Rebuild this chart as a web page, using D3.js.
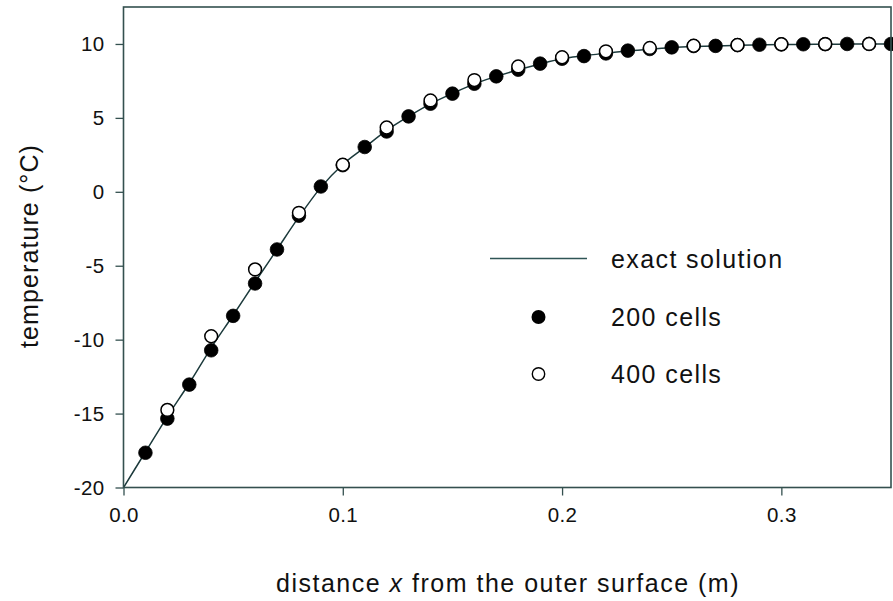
<!DOCTYPE html>
<html>
<head>
<meta charset="utf-8">
<script src="https://cdn.jsdelivr.net/npm/d3@7"></script>
<style>
  html, body { margin: 0; padding: 0; background: #fff; }
  svg { display: block; }
  text { font-family: "Liberation Sans", Arial, sans-serif; fill: #111; }
</style>
</head>
<body>
<svg id="chart" width="893" height="601"></svg>
<script>
// ---- data ----
const exactX = [0, 0.01, 0.02, 0.03, 0.04, 0.05, 0.06, 0.07, 0.08, 0.09, 0.10, 0.11, 0.12, 0.13, 0.14, 0.15, 0.16, 0.17, 0.18, 0.19, 0.20, 0.21, 0.22, 0.23, 0.24, 0.25, 0.26, 0.27, 0.28, 0.29, 0.30, 0.31, 0.32, 0.33, 0.34, 0.35];
const exactT = [-20, -17.6, -15.2, -12.95, -10.55, -8.35, -6.1, -3.9, -1.7, 0.3, 1.85, 3.0, 4.15, 5.1, 5.95, 6.65, 7.3, 7.8, 8.25, 8.65, 9.0, 9.2, 9.38, 9.53, 9.65, 9.75, 9.82, 9.87, 9.91, 9.94, 9.96, 9.97, 9.98, 9.99, 9.99, 10.0];

const cells200X = [0.01, 0.02, 0.03, 0.04, 0.05, 0.06, 0.07, 0.08, 0.09, 0.10, 0.11, 0.12, 0.13, 0.14, 0.15, 0.16, 0.17, 0.18, 0.19, 0.20, 0.21, 0.22, 0.23, 0.24, 0.25, 0.26, 0.27, 0.28, 0.29, 0.30, 0.31, 0.32, 0.33, 0.34, 0.35];
const cells200T = [-17.65, -15.34, -13.04, -10.72, -8.39, -6.2, -3.9, -1.62, 0.36, 1.8, 3.03, 4.08, 5.1, 5.96, 6.64, 7.31, 7.81, 8.26, 8.67, 9.0, 9.18, 9.36, 9.55, 9.66, 9.77, 9.86, 9.87, 9.92, 9.95, 9.97, 9.98, 9.99, 10.0, 10.0, 10.0];

const cells400X = [0.02, 0.04, 0.06, 0.08, 0.10, 0.12, 0.14, 0.16, 0.18, 0.20, 0.22, 0.24, 0.26, 0.28, 0.30, 0.32, 0.34];
const cells400T = [-14.75, -9.77, -5.25, -1.42, 1.83, 4.35, 6.18, 7.56, 8.48, 9.1, 9.5, 9.73, 9.88, 9.93, 9.98, 9.99, 10.0];

const xTicks = [0.0, 0.1, 0.2, 0.3];
const yTicks = [-20, -15, -10, -5, 0, 5, 10];
const legendLabels = ["exact solution", "200 cells", "400 cells"];
const yTitle = "temperature (°C)";

// ---- layout ----
const svg = d3.select("#chart");
const L = 123.5, R = 891, T = 7, B = 487.5;
const x = d3.scaleLinear().domain([0, 0.35]).range([L, R]);
const y = d3.scaleLinear().domain([-20, 12.5]).range([B, T]);
const frameColor = "#34504f";

svg.append("defs").append("clipPath").attr("id", "clip")
  .append("rect").attr("x", L).attr("y", T).attr("width", R - L + 4).attr("height", B - T);

// axes
const xAxis = d3.axisBottom(x).tickValues(xTicks).tickFormat(d3.format(".1f")).tickSize(8).tickPadding(12);
const yAxis = d3.axisLeft(y).tickValues(yTicks).tickFormat(d => d).tickSize(8).tickPadding(11);

const gx = svg.append("g").attr("transform", `translate(0,${B})`).call(xAxis);
const gy = svg.append("g").attr("transform", `translate(${L},0)`).call(yAxis);
[gx, gy].forEach(g => {
  g.select(".domain").remove();
  g.selectAll(".tick line").attr("stroke", frameColor).attr("stroke-width", 1.3);
  g.selectAll(".tick text").style("font-family", "'Liberation Sans', Arial, sans-serif")
    .style("font-size", "20.5px").style("letter-spacing", "0.4px").attr("fill", "#111");
});

// data
const lineData = exactX.map((d, i) => [d, exactT[i]]);
const d200 = cells200X.map((d, i) => [d, cells200T[i]]);
const d400 = cells400X.map((d, i) => [d, cells400T[i]]);

const plot = svg.append("g").attr("clip-path", "url(#clip)");
plot.append("path")
  .datum(lineData)
  .attr("fill", "none")
  .attr("stroke", "#1c3a3c")
  .attr("stroke-width", 1.5)
  .attr("d", d3.line().x(d => x(d[0])).y(d => y(d[1])).curve(d3.curveMonotoneX));

plot.selectAll("circle.c200").data(d200).join("circle")
  .attr("class", "c200")
  .attr("cx", d => x(d[0])).attr("cy", d => y(d[1])).attr("r", 6.8)
  .attr("fill", "#000").attr("stroke", "#000").attr("stroke-width", 0.8);

plot.selectAll("circle.c400").data(d400).join("circle")
  .attr("class", "c400")
  .attr("cx", d => x(d[0])).attr("cy", d => y(d[1])).attr("r", 6.4)
  .attr("fill", "#fff").attr("stroke", "#000").attr("stroke-width", 1.5);

// frame
svg.append("rect").attr("x", L).attr("y", T).attr("width", R - L).attr("height", B - T)
  .attr("fill", "none").attr("stroke", frameColor).attr("stroke-width", 1.6);

// legend
const lg = svg.append("g");
lg.append("line").attr("x1", 490).attr("x2", 587).attr("y1", 258.5).attr("y2", 258.5)
  .attr("stroke", "#2f5556").attr("stroke-width", 1.6);
lg.append("circle").attr("cx", 538.5).attr("cy", 317).attr("r", 7).attr("fill", "#000");
lg.append("circle").attr("cx", 538.5).attr("cy", 374).attr("r", 6.2)
  .attr("fill", "#fff").attr("stroke", "#000").attr("stroke-width", 1.4);
const lgY = [259, 317, 374];
legendLabels.forEach((t, i) => {
  lg.append("text").attr("x", 611).attr("y", lgY[i]).attr("dy", "0.35em")
    .style("font-size", "25px").style("letter-spacing", "1.4px").text(t);
});

// axis titles
const xt = svg.append("text").attr("x", 508).attr("y", 583).attr("dy", "0.35em")
  .attr("text-anchor", "middle").style("font-size", "25px").style("letter-spacing", "1.5px");
xt.append("tspan").text("distance ");
xt.append("tspan").style("font-style", "italic").text("x");
xt.append("tspan").text(" from the outer surface (m)");

svg.append("text").attr("transform", "translate(29,246) rotate(-90)").attr("dy", "0.35em")
  .attr("text-anchor", "middle").style("font-size", "25px").style("letter-spacing", "1.1px").text(yTitle);
</script>
</body>
</html>
